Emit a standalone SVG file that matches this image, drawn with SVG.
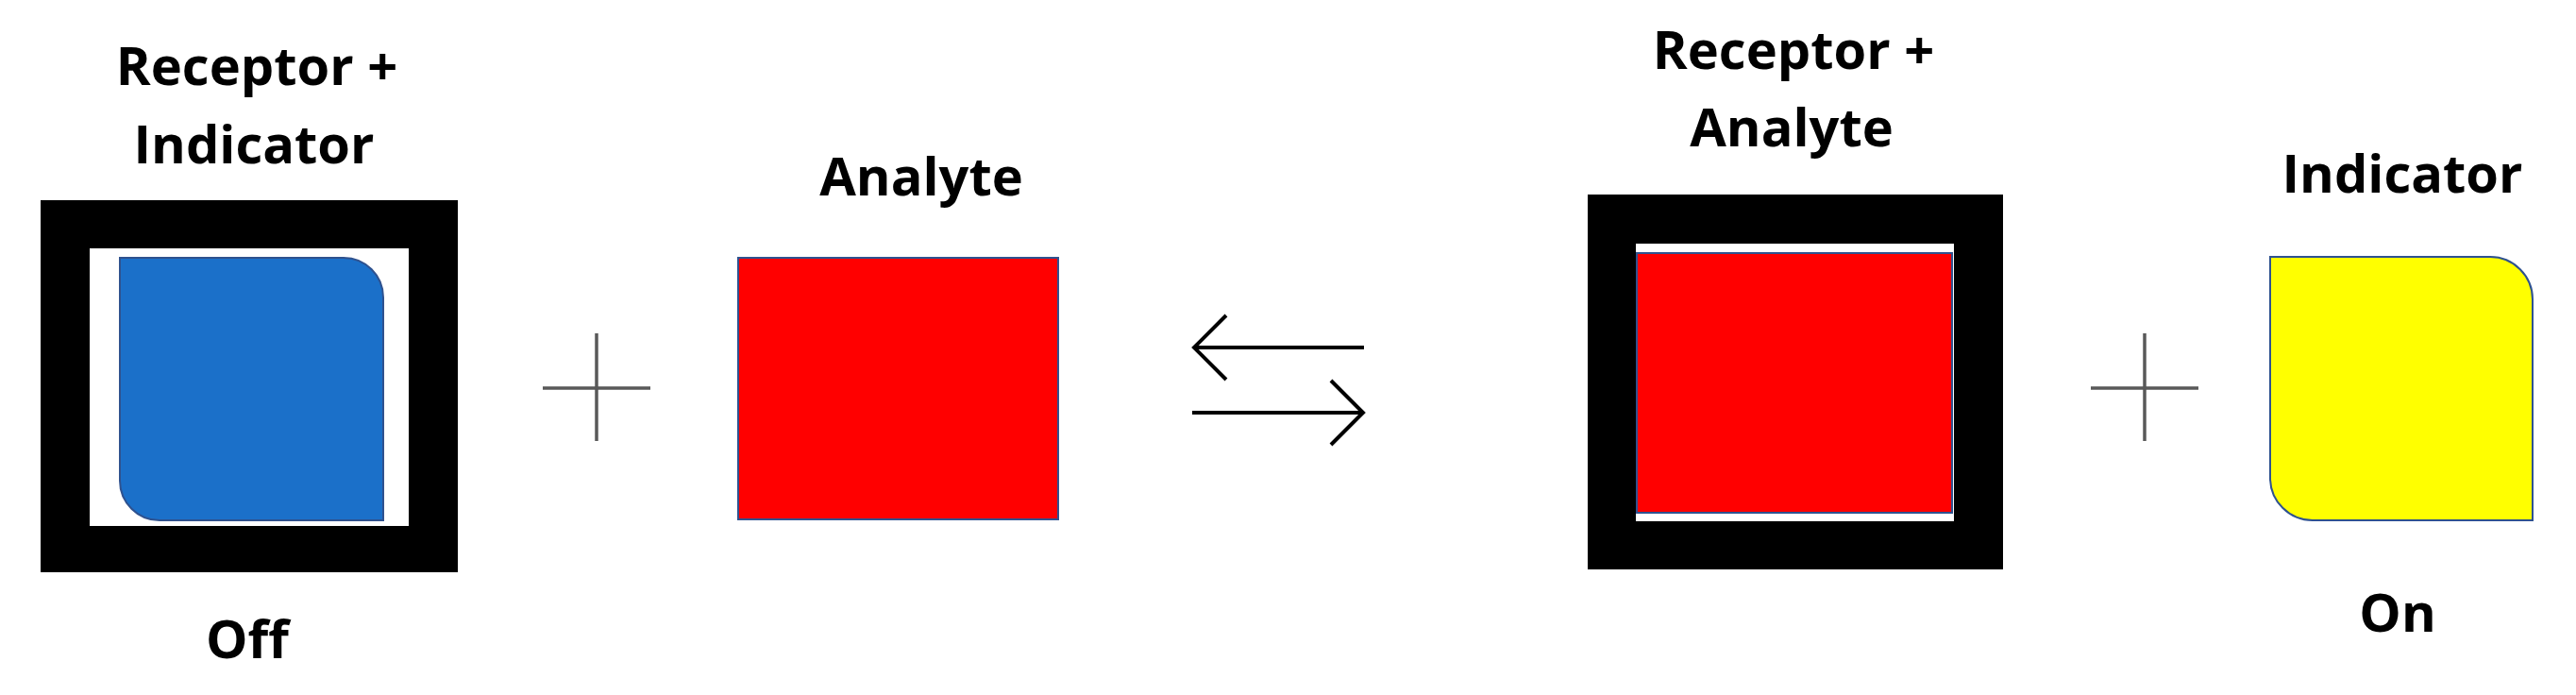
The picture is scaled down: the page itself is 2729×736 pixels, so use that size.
<svg xmlns="http://www.w3.org/2000/svg" width="2729" height="736" viewBox="0 0 2729 736">
  <style>
    .lbl { font-family: "Open Sans", "Liberation Sans", sans-serif; font-weight: 700; font-size: 56px; fill: #000; text-anchor: middle; }
    .frame { fill: #000; }
    .gap { fill: #fff; }
    .shape { stroke: #2f528f; stroke-width: 2; }
    .plus { stroke: #595959; stroke-width: 3.5; fill: none; }
    .arrow { stroke: #000; stroke-width: 4; fill: none; }
  </style>
  <defs>
    <marker id="head" markerUnits="userSpaceOnUse" viewBox="0 0 40 72" markerWidth="40" markerHeight="72" refX="36" refY="36" orient="auto">
      <path d="M2,2 L36,36 L2,70" fill="none" stroke="#000" stroke-width="4" stroke-linejoin="miter"/>
    </marker>
  </defs>
  <rect width="2729" height="736" fill="#fff"/>

  <g id="receptor-indicator">
    <text class="lbl" x="272" y="90">Receptor +</text>
    <text class="lbl" x="269" y="173">Indicator</text>
    <rect class="frame" x="43" y="212" width="442" height="394"/>
    <rect class="gap" x="95" y="263" width="338" height="294"/>
    <path class="shape" fill="#1b70c9" d="M127,273 H364 A42,42 0 0 1 406,315 V551 H169 A42,42 0 0 1 127,509 Z"/>
    <text class="lbl" x="262" y="697">Off</text>
  </g>

  <g id="plus-left">
    <path class="plus" d="M575,411 H689 M632,353 V467"/>
  </g>

  <g id="analyte">
    <text class="lbl" x="976" y="207">Analyte</text>
    <rect class="shape" fill="#ff0000" x="782" y="273" width="339" height="277"/>
  </g>

  <g id="connectors">
    <path class="arrow" d="M1445,368 H1265" marker-end="url(#head)"/>
    <path class="arrow" d="M1263,437 H1444" marker-end="url(#head)"/>
  </g>

  <g id="receptor-analyte">
    <text class="lbl" x="1900" y="73">Receptor +</text>
    <text class="lbl" x="1898" y="155">Analyte</text>
    <rect class="frame" x="1682" y="206" width="440" height="397"/>
    <rect class="gap" x="1733" y="258" width="337" height="294"/>
    <rect class="shape" fill="#ff0000" x="1734" y="268" width="334" height="275"/>
  </g>

  <g id="plus-right">
    <path class="plus" d="M2215,411 H2329 M2272,353 V467"/>
  </g>

  <g id="indicator">
    <text class="lbl" x="2545" y="204">Indicator</text>
    <path class="shape" fill="#ffff00" d="M2405,272 H2638 A45,45 0 0 1 2683,317 V551 H2450 A45,45 0 0 1 2405,506 Z"/>
    <text class="lbl" x="2540" y="669">On</text>
  </g>
</svg>
